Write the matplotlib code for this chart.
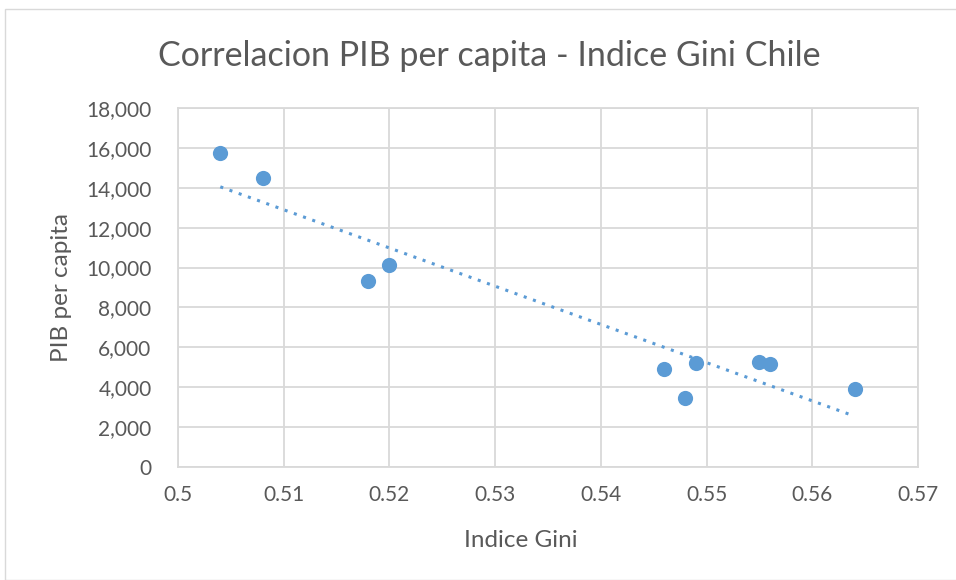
import numpy as np
import matplotlib.pyplot as plt
from matplotlib.patches import Rectangle

# Data
gini = [0.504, 0.508, 0.518, 0.520, 0.546, 0.548, 0.549, 0.555, 0.556, 0.564]
pib = [15750, 14500, 9350, 10130, 4900, 3450, 5200, 5270, 5170, 3900]

x_ticks = [0.5, 0.51, 0.52, 0.53, 0.54, 0.55, 0.56, 0.57]
y_ticks = list(range(0, 18001, 2000))

plt.rcParams['font.family'] = ['Lato', 'DejaVu Sans']
gray = '#595959'
blue = '#5b9bd5'

fig = plt.figure(figsize=(9.56, 5.8), dpi=100)
ax = fig.add_axes([0.1862, 0.1948, 0.7741, 0.619])

# linear trendline
coef = np.polyfit(gini, pib, 1)
xs = np.array([min(gini), max(gini)])
ax.plot(xs, np.polyval(coef, xs), color=blue, linestyle=(0, (1, 2.2)),
        linewidth=2.2, zorder=2)

ax.scatter(gini, pib, s=120, color=blue, zorder=3, linewidths=0)

ax.set_xlim(0.5, 0.57)
ax.set_ylim(0, 18000)
ax.set_xticks(x_ticks)
ax.set_xticklabels([f'{t:g}' for t in x_ticks])
ax.set_yticks(y_ticks)
ax.set_yticklabels([f'{t:,}' for t in y_ticks])
ax.grid(True, color='#d9d9d9', linewidth=1.3)
ax.set_axisbelow(True)
for s in ax.spines.values():
    s.set_color('#d9d9d9')
    s.set_linewidth(1.3)
ax.tick_params(length=0, labelsize=15, colors=gray)
ax.tick_params(axis='x', pad=13)
ax.tick_params(axis='y', pad=19)

ax.set_xlabel('Indice Gini', fontsize=17.5, color=gray, labelpad=18)
ax.xaxis.label.set_x(0.4635)
ax.set_ylabel('PIB per capita', fontsize=17.5, color=gray, labelpad=10)
fig.text(0.5115, 0.903, 'Correlacion PIB per capita - Indice Gini Chile',
         ha='center', va='center', fontsize=24.5, color=gray)

fig.patches.append(Rectangle((5 / 956, 0), 1, 1 - 9 / 580, transform=fig.transFigure,
                             fill=False, edgecolor='#d9d9d9', linewidth=1))

fig.savefig('out.png', dpi=100)
